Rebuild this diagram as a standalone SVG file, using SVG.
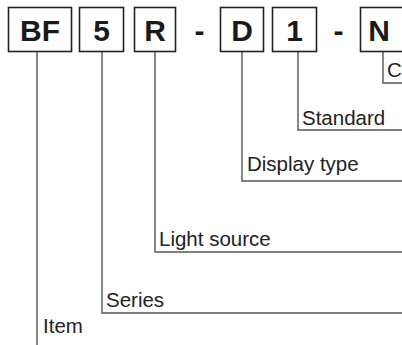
<svg xmlns="http://www.w3.org/2000/svg" width="402" height="345" viewBox="0 0 402 345">
<style>
.box{fill:#fff;stroke:#222;stroke-width:1.6}
.code{font-family:"Liberation Sans",Arial,sans-serif;font-weight:bold;font-size:30px;fill:#1a1a1a;text-anchor:middle}
.lbl{font-family:"Liberation Sans",Arial,sans-serif;font-size:20.5px;fill:#222}
.con{fill:none;stroke:#555;stroke-width:1.4}
</style>
<rect width="402" height="345" fill="#fff"/>
<g id="connectors">
<polyline class="con" points="37,52 37,345"/>
<polyline class="con" points="102,52 102,313 402,313"/>
<polyline class="con" points="155,52 155,252 402,252"/>
<polyline class="con" points="242,52 242,181 402,181"/>
<polyline class="con" points="298,52 298,130 402,130"/>
<polyline class="con" points="383,52 383,83 402,83"/>
</g>
<g id="node-BF"><rect class="box" x="8.5" y="7.5" width="63" height="44"/><text class="code" x="40" y="40.5">BF</text></g>
<g id="node-5"><rect class="box" x="79.5" y="7.5" width="44" height="44"/><text class="code" x="101.5" y="40.5">5</text></g>
<g id="node-R"><rect class="box" x="134.5" y="7.5" width="41" height="44"/><text class="code" x="155" y="40.5">R</text></g>
<g id="dash1"><text class="code" x="199.5" y="40.5">-</text></g>
<g id="node-D"><rect class="box" x="220.5" y="7.5" width="43" height="44"/><text class="code" x="242" y="40.5">D</text></g>
<g id="node-1"><rect class="box" x="272.5" y="7.5" width="44" height="44"/><text class="code" x="294.5" y="40.5">1</text></g>
<g id="dash2"><text class="code" x="338.5" y="40.5">-</text></g>
<g id="node-N"><rect class="box" x="360.5" y="7.5" width="46" height="44"/><text class="code" x="379" y="40.5">N</text></g>
<g id="labels">
<text class="lbl" x="387" y="77">C</text>
<text class="lbl" x="302" y="125">Standard</text>
<text class="lbl" x="247" y="171">Display type</text>
<text class="lbl" x="159" y="246">Light source</text>
<text class="lbl" x="106" y="307">Series</text>
<text class="lbl" x="43" y="333">Item</text>
</g>
</svg>
